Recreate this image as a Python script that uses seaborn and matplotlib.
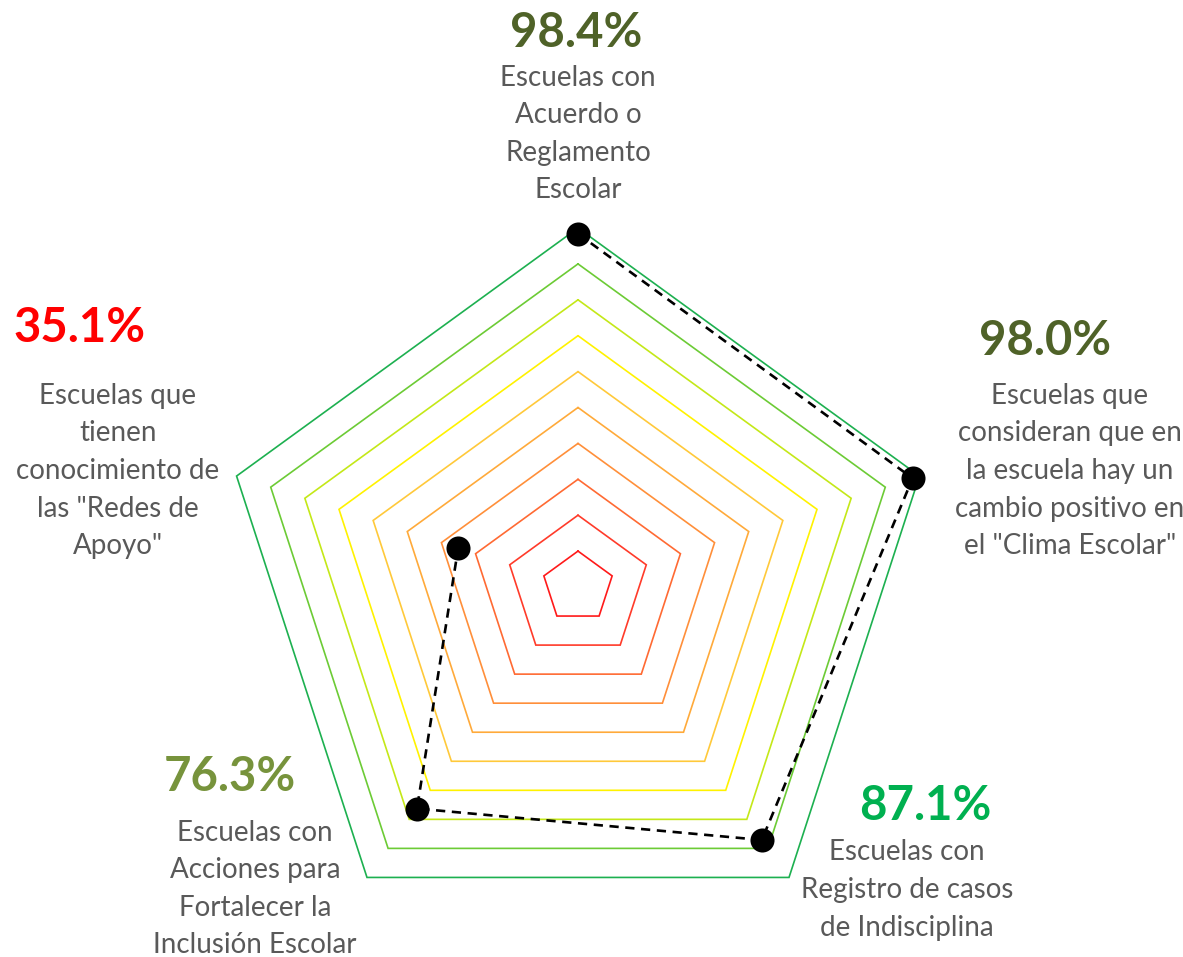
import numpy as np
import pandas as pd
import matplotlib
matplotlib.use('Agg')
import matplotlib.pyplot as plt
import seaborn as sns

# data (clockwise from top)
categories = [
    'Escuelas con\nAcuerdo o\nReglamento\nEscolar',
    'Escuelas que\nconsideran que en\nla escuela hay un\ncambio positivo en\nel "Clima Escolar"',
    'Escuelas con\nRegistro de casos\nde Indisciplina',
    'Escuelas con\nAcciones para\nFortalecer la\nInclusión Escolar',
    'Escuelas que\ntienen\nconocimiento de\nlas "Redes de\nApoyo"',
]
values = [98.4, 98.0, 87.1, 76.3, 35.1]
pct_colors = ['#4F6228', '#4F6228', '#00B050', '#77933C', '#FF0000']
ring_levels = [10, 20, 30, 40, 50, 60, 70, 80, 90, 100]
ring_colors = ['#FF1A1A', '#FF3B2A', '#FF6A33', '#FF8F3A', '#FFAA3A',
               '#FFC93A', '#FFF200', '#C4E818', '#6CCB35', '#1DB050']

sns.set_style('white')
plt.rcParams['font.family'] = ['Lato', 'DejaVu Sans']

fig = plt.figure(figsize=(11.83, 9.57), dpi=100)
ax = fig.add_axes([0, 0, 1, 1])

n = len(values)
angles = np.deg2rad(90 - 72 * np.arange(n))
closed = np.append(angles, angles[0])

# pentagon grid rings
for lvl, col in zip(ring_levels, ring_colors):
    r = lvl / 100
    ax.plot(r * np.cos(closed), r * np.sin(closed), color=col, lw=1.2,
            solid_joinstyle='miter')

# data polygon
r_vals = np.array(values) / 100
df = pd.DataFrame({'x': r_vals * np.cos(angles), 'y': r_vals * np.sin(angles)})
df_closed = pd.concat([df, df.iloc[:1]], ignore_index=True)
sns.lineplot(data=df_closed, x='x', y='y', sort=False, color='black', lw=1.9,
             linestyle=(0, (3.5, 2.5)), ax=ax, zorder=3)
sns.scatterplot(data=df, x='x', y='y', color='black', s=300, edgecolor='black',
                linewidth=0, ax=ax, zorder=4)

# label positions in pixels (center) -> data coords
cx, cy, R = 578, 587, 359
def px(x, y):
    return (x - cx) / R, (cy - y) / R

pct_pos = [(576, 33), (1045, 341), (925, 806), (230, 777), (80, 328)]
desc_pos = [(578, 134), (1070, 471), (907, 890), (255, 889), (118, 471)]

for v, c, col, pp, dp in zip(values, categories, pct_colors, pct_pos, desc_pos):
    ax.text(*px(*pp), f'{v:.1f}%', color=col, fontsize=34, fontweight='bold',
            ha='center', va='center')
    ax.text(*px(*dp), c, color='#595959', fontsize=20, ha='center',
            va='center', linespacing=1.55)

ax.set_xlim(-cx / R, (1183 - cx) / R)
ax.set_ylim(-(957 - cy) / R, cy / R)
ax.set_aspect('equal')
ax.axis('off')

fig.savefig('out.png', dpi=100)
